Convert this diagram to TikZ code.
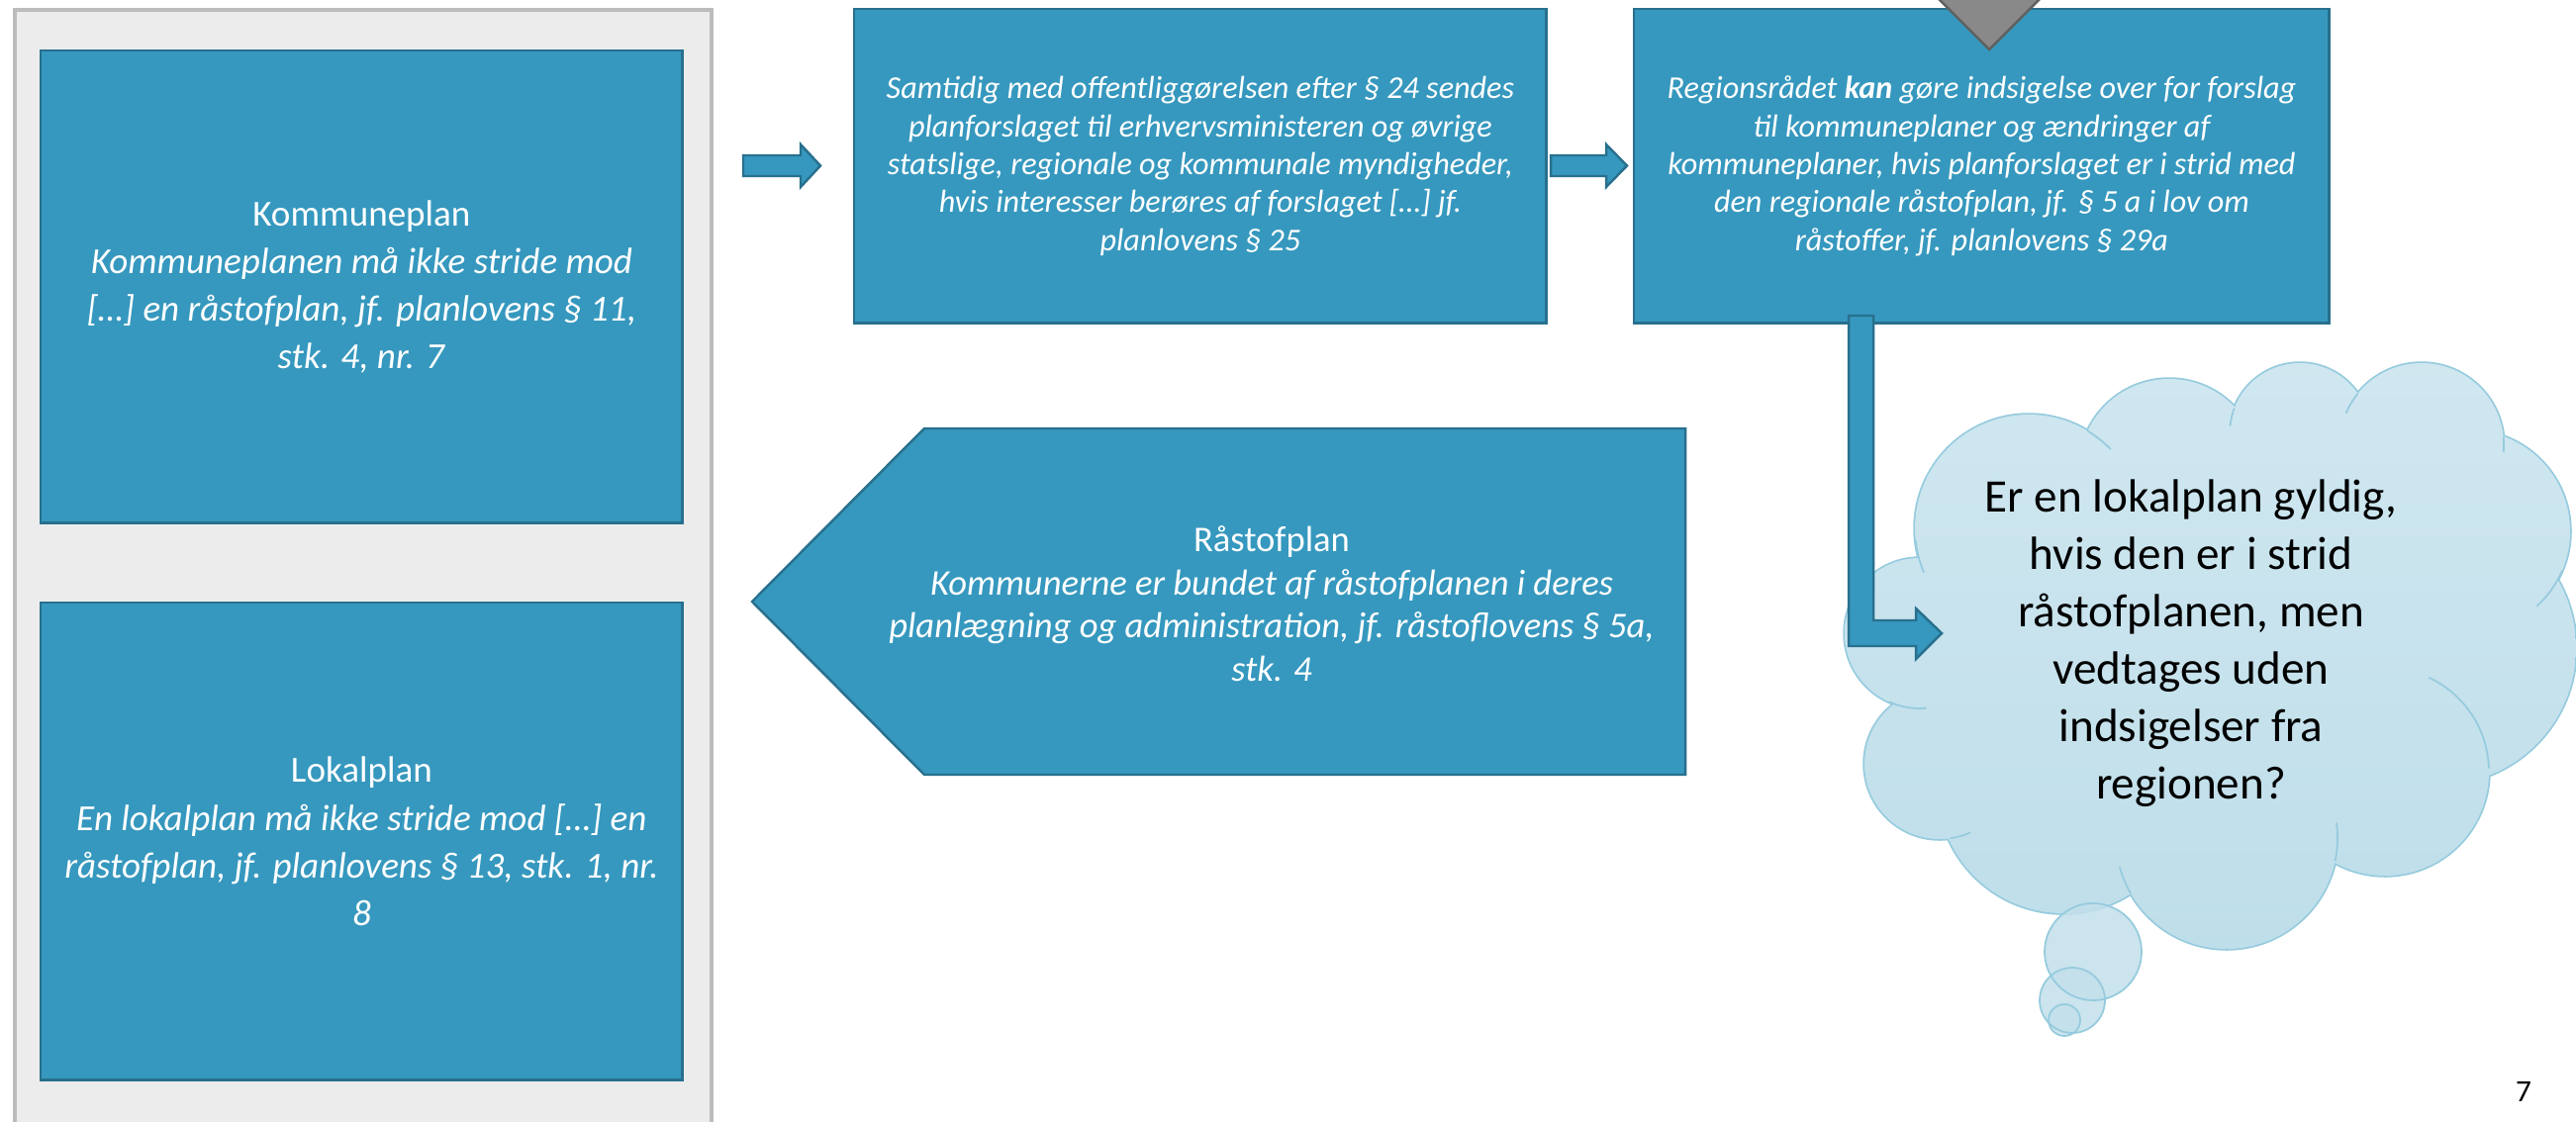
\documentclass[tikz,border=0pt]{standalone}
\usepackage{fontspec}
\setmainfont{Carlito}
\usetikzlibrary{calc}

\definecolor{boxfill}{RGB}{54,152,190}
\definecolor{boxline}{RGB}{40,112,142}
\definecolor{panelfill}{RGB}{236,236,236}
\definecolor{panelline}{RGB}{188,188,188}
\definecolor{cloudtop}{RGB}{208,231,240}
\definecolor{cloudbot}{RGB}{190,222,234}
\definecolor{cloudline}{RGB}{150,203,222}
\definecolor{bubblefill}{RGB}{194,224,235}
\definecolor{tipfill}{RGB}{137,137,137}
\definecolor{tipline}{RGB}{96,96,96}

\tikzset{
  box/.style={draw=boxline, fill=boxfill, line width=0.7pt, text=white,
    align=center, inner sep=0pt, anchor=north west},
  blockarrow/.style={draw=boxline, fill=boxfill, line width=0.7pt, line join=miter},
  bodytext/.style={font=\fontsize{10.55}{13.7}\selectfont},
  smalltext/.style={font=\fontsize{9.15}{10.9}\selectfont\itshape},
  midtext/.style={font=\fontsize{10.4}{12.4}\selectfont},
  cloudtext/.style={font=\fontsize{13.4}{16.5}\selectfont, align=center, text=black},
  cloudedge/.style={draw=cloudline, line width=0.5pt},
}

% circles that make up the thought cloud (centre, radius)
\def\cloudcircles{
  (2050,534) circle[radius=115]
  (2192,474) circle[radius=91]
  (2324,438) circle[radius=71]
  (2447,450) circle[radius=83]
  (2495,537) circle[radius=102]
  (2465,655) circle[radius=138]
  (2410,780) circle[radius=105]
  (2250,847) circle[radius=112]
  (2085,796) circle[radius=127]
  (1960,772) circle[radius=76]
  (1940,640) circle[radius=76]
  (2230,660) ellipse[x radius=270, y radius=200]
}

\begin{document}
\begin{tikzpicture}[x=0.01cm, y=-0.01cm]
\useasboundingbox (0,0) rectangle (2603,1133);
\fill[white] (0,0) rectangle (2603,1133);

% left grey panel holding the two plan boxes
\node[draw=panelline, fill=panelfill, line width=1pt, anchor=north west,
      minimum width=7.04cm, minimum height=12cm, inner sep=0pt] (panel) at (13,8) {};

\node[box, bodytext, minimum width=6.48cm, minimum height=4.77cm] (kplan) at (40,50)
  {Kommuneplan\\
   \textit{Kommuneplanen må ikke stride mod}\\
   \textit{[…] en råstofplan, jf. planlovens § 11,}\\
   \textit{stk. 4, nr. 7}};

\node[box, bodytext, minimum width=6.48cm, minimum height=4.82cm] (lplan) at (40,608)
  {Lokalplan\\
   \textit{En lokalplan må ikke stride mod […] en}\\
   \textit{råstofplan, jf. planlovens § 13, stk. 1, nr.}\\
   \textit{8}};

% top row
\node[box, smalltext, minimum width=6.99cm, minimum height=3.17cm] (hoering) at (862,8)
  {Samtidig med offentliggørelsen efter § 24 sendes\\
   planforslaget til erhvervsministeren og øvrige\\
   statslige, regionale og kommunale myndigheder,\\
   hvis interesser berøres af forslaget […] jf.\\
   planlovens § 25};

\node[box, smalltext, minimum width=7.02cm, minimum height=3.17cm] (region) at (1650,8)
  {Regionsrådet \textbf{kan} gøre indsigelse over for forslag\\
   til kommuneplaner og ændringer af\\
   kommuneplaner, hvis planforslaget er i strid med\\
   den regionale råstofplan, jf. § 5 a i lov om\\
   råstoffer, jf. planlovens § 29a};

% grey pointer entering the region box from above
\filldraw[fill=tipfill, draw=tipline, line width=0.7pt, line join=miter]
  (1948,-12) -- (2072,-12) -- (2010,50) -- cycle;

% block arrows of the top row
\coordinate (a1) at (751,167.5);
\path[blockarrow] (a1) ++(0,-10.5) -- ++(58,0) -- ++(0,-11) -- ++(20,21.5)
  -- ++(-20,21.5) -- ++(0,-11) -- ++(-58,0) -- cycle;
\coordinate (a2) at (1567,167.5);
\path[blockarrow] (a2) ++(0,-10.5) -- ++(56,0) -- ++(0,-11) -- ++(21,21.5)
  -- ++(-21,21.5) -- ++(0,-11) -- ++(-56,0) -- cycle;

% pentagon pointing back to the panel
\coordinate (rNW) at (934,433);
\coordinate (rNE) at (1703,433);
\coordinate (rSE) at (1703,783);
\coordinate (rSW) at (934,783);
\coordinate (rTip) at (760,608);
\path[blockarrow] (rNW) -- (rNE) -- (rSE) -- (rSW) -- (rTip) -- cycle;
\node[midtext, text=white, align=center] (raastof) at (1285,610)
  {Råstofplan\\
   \textit{Kommunerne er bundet af råstofplanen i deres}\\
   \textit{planlægning og administration, jf. råstoflovens § 5a,}\\
   \textit{stk. 4}};

% thought cloud: wide outline first, gradient body on top leaves the outer rim
\path[draw=cloudline, line width=1pt] \cloudcircles;
\shade[top color=cloudtop, bottom color=cloudbot] \cloudcircles;

% short inner arcs where the puffs meet
\draw[cloudedge] (2410,780) ++(-65:105) arc[start angle=-65, end angle=-2, radius=105];
\draw[cloudedge] (2250,847) ++(-8:112) arc[start angle=-8, end angle=12, radius=112];
\draw[cloudedge] (2250,847) ++(150:112) arc[start angle=150, end angle=165, radius=112];
\draw[cloudedge] (1960,772) ++(66:76) arc[start angle=66, end angle=82, radius=76];
\draw[cloudedge] (1940,640) ++(85:76) arc[start angle=85, end angle=114, radius=76];
\draw[cloudedge] (2050,534) ++(157:115) arc[start angle=157, end angle=174, radius=115];
\draw[cloudedge] (2050,534) ++(-59:115) arc[start angle=-59, end angle=-44, radius=115];
\draw[cloudedge] (2324,438) ++(186:71) arc[start angle=186, end angle=201, radius=71];
\draw[cloudedge] (2447,450) ++(203:83) arc[start angle=203, end angle=219, radius=83];
\draw[cloudedge] (2447,450) ++(-6:83) arc[start angle=-6, end angle=5, radius=83];
\draw[cloudedge] (2495,537) ++(23:102) arc[start angle=23, end angle=48, radius=102];

% trailing bubbles
\fill[bubblefill, opacity=0.85] (2115,962) circle[radius=49];
\fill[bubblefill, opacity=0.85] (2094,1011) circle[radius=33];
\fill[bubblefill, opacity=0.85] (2086,1031) circle[radius=16];
\draw[cloudedge] (2115,962) circle[radius=49];
\draw[cloudedge] (2094,1011) circle[radius=33];
\draw[cloudedge] (2086,1031) circle[radius=16];

\node[cloudtext] (question) at (2214,650)
  {Er en lokalplan gyldig,\\
   hvis den er i strid\\
   råstofplanen, men\\
   vedtages uden\\
   indsigelser fra\\
   regionen?};

% bent arrow from the region box down into the cloud
\coordinate (bTop) at (1868,319);
\path[blockarrow] (bTop) -- ++(25,0) -- ++(0,308) -- ++(43,0) -- ++(0,-12)
  -- ++(26,25) -- ++(-26,26) -- ++(0,-13) -- ++(-68,0) -- cycle;

% slide number
\node[font=\fontsize{8.9}{10}\selectfont, text=black] (pagenum) at (2550,1103) {7};
\end{tikzpicture}
\end{document}
